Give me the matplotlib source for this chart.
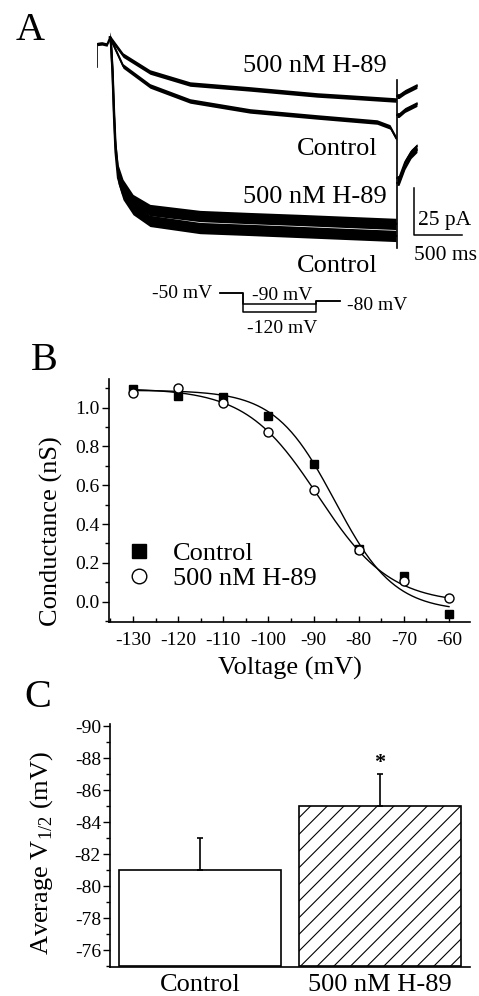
import matplotlib
matplotlib.use("Agg")
import matplotlib.pyplot as plt
import numpy as np
from matplotlib.lines import Line2D
from matplotlib.ticker import MultipleLocator, FormatStrFormatter

plt.rcParams['font.family'] = ['Liberation Serif', 'DejaVu Serif']
plt.rcParams['mathtext.fontset'] = 'custom'
plt.rcParams['mathtext.rm'] = 'Liberation Serif'
plt.rcParams['axes.unicode_minus'] = False
plt.rcParams['hatch.linewidth'] = 0.8

# ---------------- data ----------------
# Panel A: current traces (time in ms, current in pA)
pre_t = [0, 52, 104, 135]
pre_i = [0.0, 0.3, -0.3, 3.5]
start_artifact_i = [0.0, -12.2]

up_h89_t = [156, 271, 552, 969, 1594, 2292, 2635, 3115]
up_h89_i = [2.1, -5.9, -14.9, -21.3, -23.9, -27.1, -28.2, -29.8]
up_ctl_t = [156, 271, 552, 969, 1594, 2292, 2917, 3052, 3115]
up_ctl_i = [1.1, -11.7, -22.3, -30.3, -35.6, -38.8, -41.5, -44.1, -50.0]

low_t = [146, 162, 177, 193, 219, 271, 375, 552, 1073, 1594, 2115, 2635, 3115]
low_h89_i = [0.0, -13.8, -35.1, -53.7, -67.0, -75.0, -83.0, -88.3, -91.5, -92.6, -93.6, -94.7, -95.7]
low_ctl_i = [0.0, -16.0, -38.8, -57.4, -71.3, -79.8, -87.8, -94.1, -97.9, -98.9, -100.0, -101.1, -102.1]

transient_t = 3125
transient_i = [-19.1, -108.5]

tail_t = [3146, 3208, 3271, 3333]
tail_up_h89 = [-27.7, -25.5, -23.9, -22.3]
tail_up_ctl = [-37.8, -35.1, -33.5, -31.9]
tail_low_h89 = [-71.3, -62.8, -57.4, -54.3]
tail_low_ctl = [-73.9, -65.4, -59.6, -56.4]

scale_ms = 500
scale_pA = 25

# voltage protocol (schematic time units, mV)
prot_t = [0.0, 0.23, 0.96, 1.20]
prot_hold = -50
prot_test = [-90, -120]
prot_post = -80

# Panel B: conductance vs voltage
volt = [-130, -120, -110, -100, -90, -80, -70, -60]
g_control = [1.095, 1.06, 1.057, 0.959, 0.71, 0.27, 0.132, -0.063]
g_h89 = [1.077, 1.10, 1.023, 0.873, 0.576, 0.266, 0.108, 0.017]
# Boltzmann fit parameters (top, bottom, V1/2, slope)
fit_control = (1.09, -0.05, -85.3, 6.6)
fit_h89 = (1.10, -0.01, -89.0, 8.0)

# Panel C: average V1/2
groups = ['Control', '500 nM H-89']
v_half = [-81, -85]
v_half_err = [2, 2]

# ---------------- figure ----------------
W, H = 479, 996
fig = plt.figure(figsize=(W / 100, H / 100), dpi=100)


def rect(l, r, t, b):
    return [l / W, 1 - b / H, (r - l) / W, (b - t) / H]


def fx(x):
    return x / W


def fy(y):
    return 1 - y / H


# ---- Panel A ----
PX_MS = 0.096
PX_PA = 1.88
X0, Y0 = 97, 44
axA = fig.add_axes(rect(97, 479, 30, 275))
axA.set_xlim(0, (479 - X0) / PX_MS)
axA.set_ylim(-(275 - Y0) / PX_PA, (Y0 - 30) / PX_PA)
axA.axis('off')


def trace(t, i, nz, lw=1.2):
    t = np.asarray(t, float)
    i = np.asarray(i, float)
    axA.fill_between(t, i - nz, i + nz, color='black', lw=0)
    axA.plot(t, i, color='black', lw=lw)


trace(pre_t, pre_i, 0.9)
axA.plot([0, 0], start_artifact_i, color='black', lw=1.2)
trace([pre_t[-1]] + up_h89_t, [pre_i[-1]] + up_h89_i, 1.2)
trace([pre_t[-1]] + up_ctl_t, [pre_i[-1]] + up_ctl_i, 1.2)
trace([pre_t[-1]] + low_t, [pre_i[-1]] + low_h89_i, 3.0, lw=1.6)
trace([pre_t[-1]] + low_t, [pre_i[-1]] + low_ctl_i, 3.0, lw=1.6)
axA.plot([transient_t, transient_t], transient_i, color='black', lw=1.2)
for tail in (tail_up_h89, tail_up_ctl, tail_low_h89, tail_low_ctl):
    trace([transient_t] + tail_t, [tail[0]] + tail, 1.3)

# scale bar
sb_t = (414 - X0) / PX_MS
sb_i = -(235 - Y0) / PX_PA
axA.plot([sb_t, sb_t, sb_t + scale_ms], [sb_i + scale_pA, sb_i, sb_i],
         color='black', lw=1.1)
fig.text(fx(418), fy(225), f'{scale_pA} pA', fontsize=15.5, va='baseline', ha='left')
fig.text(fx(414), fy(260), f'{scale_ms} ms', fontsize=15.5, va='baseline', ha='left')

# trace labels
fig.text(fx(387), fy(72), '500 nM H-89', fontsize=19, ha='right', va='baseline')
fig.text(fx(378), fy(155), 'Control', fontsize=19, ha='right', va='baseline')
fig.text(fx(387), fy(203), '500 nM H-89', fontsize=19, ha='right', va='baseline')
fig.text(fx(378), fy(271.5), 'Control', fontsize=19, ha='right', va='baseline')

# voltage protocol
axP = fig.add_axes(rect(200, 360, 280, 335))
PX_MV = 0.263
axP.set_xlim(-0.2, 1.4)
axP.set_ylim(-50 - (335 - 293.3) / PX_MV, -50 + (293.3 - 280) / PX_MV)
axP.axis('off')
for v in prot_test:
    axP.plot([prot_t[0], prot_t[1], prot_t[1], prot_t[2], prot_t[2], prot_t[3]],
             [prot_hold, prot_hold, v, v, prot_post, prot_post],
             color='black', lw=1.1)
fig.text(fx(212), fy(298), f'{prot_hold} mV', fontsize=14, ha='right', va='baseline')
fig.text(fx(282), fy(300), f'{prot_test[0]} mV', fontsize=14, ha='center', va='baseline')
fig.text(fx(282), fy(333), f'{prot_test[1]} mV', fontsize=14, ha='center', va='baseline')
fig.text(fx(347), fy(310), f'{prot_post} mV', fontsize=14, ha='left', va='baseline')

# ---- Panel B ----
axB = fig.add_axes(rect(109, 470, 379, 622))
axB.set_xlim(-135.3, -55.35)
axB.set_ylim(-0.105, 1.148)


def boltz(v, p):
    top, bot, vh, k = p
    return bot + (top - bot) / (1 + np.exp((v - vh) / k))


vv = np.linspace(-130, -60, 300)
axB.plot(vv, boltz(vv, fit_control), color='black', lw=1.0)
axB.plot(vv, boltz(vv, fit_h89), color='black', lw=1.0)
axB.plot(volt, g_control, 's', color='black', ms=5.8, mec='black', zorder=3)
axB.plot(volt, g_h89, 'o', color='black', mfc='white', ms=6.5, mew=1.0, zorder=3)

for s in ('top', 'right'):
    axB.spines[s].set_visible(False)
for s in ('left', 'bottom'):
    axB.spines[s].set_linewidth(1.2)
axB.xaxis.set_major_locator(MultipleLocator(10))
axB.xaxis.set_minor_locator(MultipleLocator(5))
axB.yaxis.set_major_locator(MultipleLocator(0.2))
axB.yaxis.set_minor_locator(MultipleLocator(0.1))
axB.yaxis.set_major_formatter(FormatStrFormatter('%.1f'))
axB.tick_params(axis='y', which='major', direction='out', length=5, width=1, pad=1.5, labelsize=14)
axB.tick_params(axis='y', which='minor', direction='out', length=3, width=1)
axB.tick_params(axis='x', which='major', direction='in', length=4, width=1, pad=7, labelsize=14)
axB.tick_params(axis='x', which='minor', direction='in', length=3, width=1)
axB.set_xticks([-130, -120, -110, -100, -90, -80, -70, -60])

axB.set_xlabel('Voltage (mV)', fontsize=19, va='baseline')
axB.xaxis.set_label_coords(0.5, (622 - 675) / 243)
axB.set_ylabel('Conductance (nS)', fontsize=19, va='center')
axB.yaxis.set_label_coords((51 - 109) / 361, (622 - 531) / 243)

handles = [Line2D([], [], ls='none', marker='s', color='black', ms=10),
           Line2D([], [], ls='none', marker='o', mfc='white', mec='black', ms=10.5, mew=1.0)]
axB.legend(handles, ['Control', '500 nM H-89'], loc='center left',
           bbox_to_anchor=((125.8 - 109) / 361, (622 - 566) / 243),
           frameon=False, fontsize=19, handlelength=1.0, handletextpad=0.79,
           labelspacing=0.06, borderpad=0, borderaxespad=0)

# ---- Panel C ----
axC = fig.add_axes(rect(110, 470, 724, 967))
axC.set_ylim(-74.95, -90.15)
axC.set_xlim(-0.5, 1.5)
xpos = np.arange(len(groups))
base = -75
heights = [v - base for v in v_half]
bars = axC.bar(xpos, heights, bottom=base, width=0.9, color='white',
               edgecolor='black', linewidth=1.2)
bars[1].set_hatch('//')
axC.errorbar(xpos, v_half, yerr=[v_half_err, [0, 0]], fmt='none', ecolor='black',
             elinewidth=1.2, capsize=2.5, capthick=1.2)
axC.text(1, v_half[1] - v_half_err[1] - 0.7, '*', fontsize=16, fontweight='bold',
         ha='center', va='center')

for s in ('top', 'right'):
    axC.spines[s].set_visible(False)
for s in ('left', 'bottom'):
    axC.spines[s].set_linewidth(1.2)
axC.yaxis.set_major_locator(MultipleLocator(2))
axC.yaxis.set_minor_locator(MultipleLocator(1))
axC.yaxis.set_major_formatter(FormatStrFormatter('%d'))
axC.tick_params(axis='y', which='major', direction='out', length=5, width=1, pad=1.5, labelsize=14)
axC.tick_params(axis='y', which='minor', direction='out', length=3, width=1)
axC.set_yticks([-90, -88, -86, -84, -82, -80, -78, -76])
axC.set_xticks(xpos)
axC.set_xticklabels(groups, fontsize=19)
axC.tick_params(axis='x', length=0, pad=5)
axC.set_ylabel(r'Average V$_{\mathregular{1/2}}$ (mV)', fontsize=19, va='center')
axC.yaxis.set_label_coords((42 - 110) / 360, (967 - 853) / 243)

# panel letters
fig.text(fx(16), fy(40), 'A', fontsize=29, ha='left', va='baseline')
fig.text(fx(31), fy(370), 'B', fontsize=29, ha='left', va='baseline')
fig.text(fx(24), fy(707), 'C', fontsize=29, ha='left', va='baseline')

fig.savefig('out.png', dpi=100)
